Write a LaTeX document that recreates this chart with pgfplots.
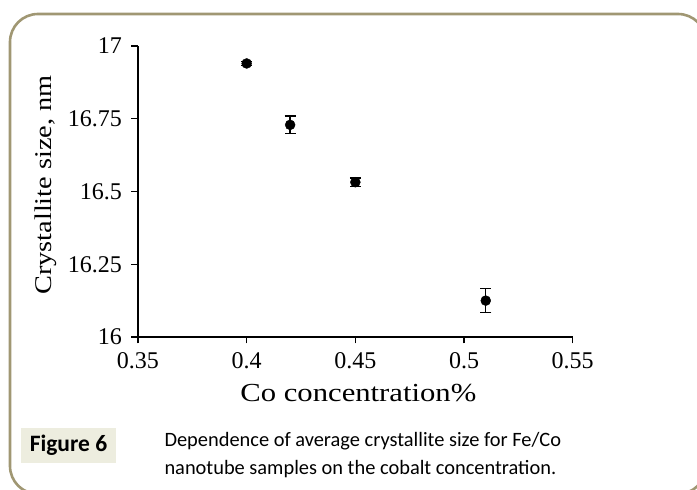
\documentclass[border=0pt]{standalone}
\usepackage{pgfplots}
\pgfplotsset{compat=1.18}
\usepackage{fontspec}
\setmainfont{Liberation Serif}
\newfontfamily\calibri{Carlito}
\definecolor{frame}{HTML}{A09773}
\definecolor{capbg}{HTML}{EDEDDF}
\begin{document}
\begin{tikzpicture}[x=1pt,y=1pt]
\useasboundingbox (0,0) rectangle (697,490);
\begin{scope}
\clip (0,0) rectangle (697,490);
\draw[frame, line width=2.6pt, rounded corners=28pt] (10,-4) rectangle (706,476);
\end{scope}
\begin{axis}[
  at={(138pt,153pt)}, anchor=south west,
  scale only axis, width=434.7pt, height=291pt,
  xmin=0.35, xmax=0.55, ymin=16, ymax=17,
  axis x line=bottom, axis y line=left,
  axis line style={line width=1.6pt, -},
  tick align=outside, major tick length=6.5pt,
  tick style={line width=1.4pt, black},
  xtick={0.35,0.4,0.45,0.5,0.55},
  xticklabels={0.35,0.4,0.45,0.5,0.55},
  ytick={16,16.25,16.5,16.75,17},
  yticklabels={16,16.25,16.5,16.75,17},
  ticklabel style={font=\fontsize{24}{28}\selectfont},
  xticklabel style={yshift=-6pt},
  yticklabel style={xshift=-6pt},
  xlabel={\scalebox{1.18}[1]{Co concentration\%}},
  ylabel={\scalebox{1.18}[1]{Crystallite size, nm}},
  every axis x label/.style={at={(axis description cs:0.5,0)}, anchor=base, yshift=-65pt, xshift=3pt, font=\fontsize{26}{30}\selectfont},
  every axis y label/.style={at={(axis description cs:0,0.5)}, anchor=center, rotate=90, yshift=92pt, xshift=6.5pt, font=\fontsize{24}{28}\selectfont},
  clip=false,
]
\addplot[only marks, mark=*, mark size=5pt, black,
  error bars/.cd, y dir=both, y explicit,
  error bar style={line width=1.4pt, black},
  error mark options={rotate=90, mark size=5.5pt, line width=1.4pt, black}]
  coordinates {
  (0.40,16.94) +- (0,0.006)
  (0.42,16.729) +- (0,0.030)
  (0.45,16.532) +- (0,0.015)
  (0.51,16.125) +- (0,0.041)
  };
\end{axis}
\fill[capbg] (21,27) rectangle (116,62);
\node[font=\calibri\bfseries\fontsize{23.5}{26}\selectfont] at (68.5,44.5) {Figure 6};
\node[font=\calibri\fontsize{20.4}{28.3}\selectfont, anchor=base west, align=left] at (161,43.3)
  {Dependence of average crystallite size for Fe/Co};
\node[font=\calibri\fontsize{20.4}{28.3}\selectfont, anchor=base west, align=left] at (161,15)
  {nanotube samples on the cobalt concentration.};
\end{tikzpicture}
\end{document}
